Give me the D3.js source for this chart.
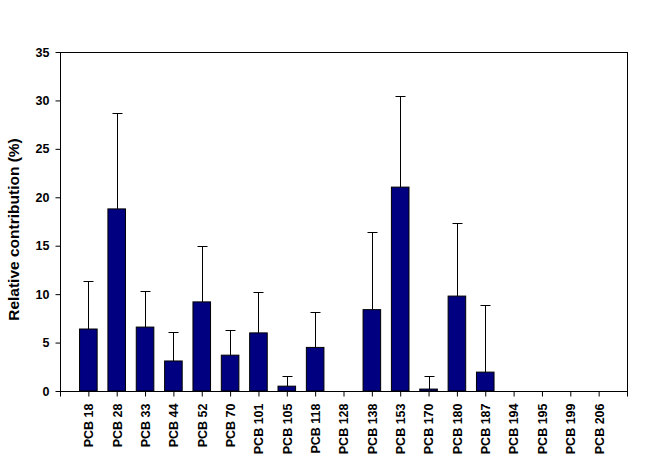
<!DOCTYPE html>
<html>
<head>
<meta charset="utf-8">
<script src="https://cdn.jsdelivr.net/npm/d3@7/dist/d3.min.js"></script>
<style>
html,body{margin:0;padding:0;background:#fff;}
svg{display:block;}
text{font-family:"Liberation Sans",Arial,sans-serif;font-weight:bold;fill:#000;}
</style>
</head>
<body>
<svg id="chart" width="654" height="471"></svg>
<script>
const categories = ["PCB 18","PCB 28","PCB 33","PCB 44","PCB 52","PCB 70","PCB 101","PCB 105","PCB 118","PCB 128","PCB 138","PCB 153","PCB 170","PCB 180","PCB 187","PCB 194","PCB 195","PCB 199","PCB 206"];
const values = [6.4, 18.8, 6.6, 3.1, 9.2, 3.7, 6.0, 0.5, 4.5, 0, 8.4, 21.05, 0.2, 9.8, 1.95, 0, 0, 0, 0];
const errors = [5.0, 9.95, 3.7, 2.95, 5.75, 2.6, 4.2, 1.0, 3.7, 0, 8.0, 9.45, 1.35, 7.5, 6.9, 0, 0, 0, 0];
const yTicks = [0, 5, 10, 15, 20, 25, 30, 35];
const yLabel = "Relative contribution (%)";

const svg = d3.select("#chart");
const mLeft = 60, mRight = 627, mTop = 52, mBottom = 391;

const x = d3.scaleLinear().domain([-1, categories.length]).range([mLeft, mRight]);
const y = d3.scaleLinear().domain([0, 35]).range([mBottom, mTop]);
const step = x(1) - x(0);
const bw = step * 0.62;

const rows = values.map((v, i) => ({ i, v, e: errors[i] })).filter(d => d.v > 0);

// frame
svg.append("rect").attr("x", mLeft + 0.5).attr("y", mTop + 0.5).attr("width", mRight - mLeft).attr("height", mBottom - mTop)
  .attr("fill", "none").attr("stroke", "#000").attr("stroke-width", 1);

// bars
svg.append("g").selectAll("rect").data(rows).join("rect")
  .attr("x", d => x(d.i) - bw / 2)
  .attr("y", d => y(d.v))
  .attr("width", bw)
  .attr("height", d => y(0) - y(d.v))
  .attr("fill", "#000080").attr("stroke", "#000").attr("stroke-width", 1);

// error bars
const eg = svg.append("g").attr("stroke", "#000").attr("stroke-width", 1);
rows.forEach(d => {
  if (d.e <= 0) return;
  const cx = Math.round(x(d.i)) + 0.5;
  const cy = Math.round(y(d.v + d.e)) + 0.5;
  eg.append("line").attr("x1", cx).attr("x2", cx).attr("y1", y(d.v)).attr("y2", cy);
  eg.append("line").attr("x1", cx - 5).attr("x2", cx + 5).attr("y1", cy).attr("y2", cy);
});

// y axis
const yAxis = d3.axisLeft(y).tickValues(yTicks).tickSize(5).tickPadding(6).tickFormat(d3.format("d"));
const gy = svg.append("g").attr("transform", `translate(${mLeft + 0.5},0)`).call(yAxis);
gy.select(".domain").remove();
gy.selectAll("text").style("font-size", "12.5px").style("font-family", "Liberation Sans, Arial, sans-serif").style("font-weight", "bold");

// x axis
const xAxis = d3.axisBottom(x).tickValues(d3.range(-1, categories.length + 1)).tickSize(5)
  .tickFormat(d => (d >= 0 && d < categories.length) ? categories[d] : "");
const gx = svg.append("g").attr("transform", `translate(0,${mBottom + 0.5})`).call(xAxis);
gx.select(".domain").remove();
gx.selectAll("text")
  .style("font-size", "12.5px").style("font-family", "Liberation Sans, Arial, sans-serif").style("font-weight", "bold")
  .attr("text-anchor", "end")
  .attr("transform", "rotate(-90)")
  .attr("x", -12).attr("y", 0).attr("dy", "0.35em");

// y label
svg.append("text")
  .attr("transform", `translate(19,${(mTop + mBottom) / 2 + 8}) rotate(-90)`)
  .attr("text-anchor", "middle")
  .style("font-size", "15.5px")
  .text(yLabel);
</script>
</body>
</html>
